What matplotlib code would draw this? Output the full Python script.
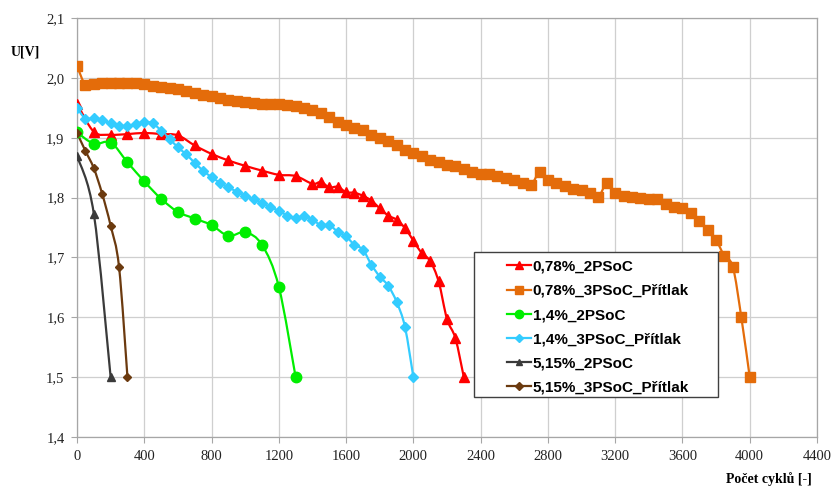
import matplotlib
matplotlib.use("Agg")
import matplotlib.pyplot as plt
import numpy as np
from matplotlib.path import Path
from matplotlib.patches import PathPatch, Rectangle
from matplotlib.lines import Line2D
from matplotlib.ticker import FuncFormatter

# 0,78%_2PSoC
red_x = [0, 100, 200, 300, 400, 500, 600, 700, 800, 900, 1000, 1100, 1200, 1300,
         1400, 1450, 1500, 1550, 1600, 1650, 1700, 1750, 1800, 1850, 1900, 1950,
         2000, 2050, 2100, 2150, 2200, 2250, 2300]
red_y = [1.957, 1.910, 1.905, 1.906, 1.908, 1.906, 1.904, 1.887, 1.873, 1.862, 1.853,
         1.845, 1.838, 1.836, 1.823, 1.826, 1.817, 1.818, 1.809, 1.808, 1.803, 1.795,
         1.782, 1.770, 1.763, 1.749, 1.728, 1.707, 1.694, 1.660, 1.597, 1.565, 1.500]

# 0,78%_3PSoC_Přítlak
orange_x = list(range(0, 4001, 50))
orange_y = [2.020, 1.988, 1.989, 1.991, 1.992, 1.992, 1.992, 1.991, 1.989, 1.987,
            1.985, 1.983, 1.981, 1.978, 1.975, 1.972, 1.969, 1.966, 1.963, 1.961,
            1.959, 1.958, 1.957, 1.957, 1.956, 1.955, 1.953, 1.950, 1.946, 1.941,
            1.934, 1.927, 1.922, 1.916, 1.913, 1.905, 1.899, 1.894, 1.888, 1.880,
            1.874, 1.869, 1.863, 1.859, 1.855, 1.852, 1.848, 1.843, 1.840, 1.839,
            1.836, 1.832, 1.830, 1.825, 1.821, 1.842, 1.829, 1.824, 1.819, 1.815,
            1.812, 1.808, 1.801, 1.824, 1.808, 1.802, 1.801, 1.800, 1.798, 1.797,
            1.789, 1.785, 1.782, 1.775, 1.761, 1.746, 1.729, 1.702, 1.684, 1.600,
            1.500]

# 1,4%_2PSoC
green_x = [0, 100, 200, 300, 400, 500, 600, 700, 800, 900, 1000, 1100, 1200, 1300]
green_y = [1.909, 1.890, 1.892, 1.859, 1.827, 1.798, 1.776, 1.765, 1.754, 1.736,
           1.742, 1.721, 1.651, 1.500]

# 1,4%_3PSoC_Přítlak
blue_x = list(range(0, 2001, 50))
blue_y = [1.950, 1.932, 1.933, 1.929, 1.924, 1.920, 1.920, 1.923, 1.926, 1.924,
          1.912, 1.898, 1.884, 1.872, 1.858, 1.845, 1.834, 1.825, 1.817, 1.810,
          1.803, 1.797, 1.791, 1.784, 1.778, 1.770, 1.766, 1.769, 1.763, 1.754,
          1.754, 1.743, 1.735, 1.721, 1.713, 1.688, 1.668, 1.653, 1.626, 1.584,
          1.500]

# 5,15%_2PSoC
black_x = [0, 100, 200]
black_y = [1.870, 1.773, 1.500]

# 5,15%_3PSoC_Přítlak
brown_x = [0, 50, 100, 150, 200, 250, 300]
brown_y = [1.908, 1.878, 1.849, 1.806, 1.753, 1.684, 1.500]

series = [
    ("0,78%_2PSoC", red_x, red_y, "#FF0000", "^", 7.5, 6),
    ("0,78%_3PSoC_Přítlak", orange_x, orange_y, "#E46C0A", "s", 7.5, 6),
    ("1,4%_2PSoC", green_x, green_y, "#00EE00", "o", 7.5, 6),
    ("1,4%_3PSoC_Přítlak", blue_x, blue_y, "#33CCFF", "D", 5.5, 4.5),
    ("5,15%_2PSoC", black_x, black_y, "#3A3A3A", "^", 5.5, 5),
    ("5,15%_3PSoC_Přítlak", brown_x, brown_y, "#6B3A0F", "D", 4.5, 4.5),
]


def smooth_path(x, y):
    # vyhlazena cara jako v Excelu: Bezierovy useky pres body
    p = np.column_stack([x, y]).astype(float)
    n = len(p)
    verts = [p[0]]
    codes = [Path.MOVETO]
    for i in range(n - 1):
        p0 = p[i - 1] if i > 0 else p[i]
        p3 = p[i + 2] if i + 2 < n else p[i + 1]
        c1 = p[i] + (p[i + 1] - p0) / 6.0
        c2 = p[i + 1] - (p3 - p[i]) / 6.0
        verts += [c1, c2, p[i + 1]]
        codes += [Path.CURVE4] * 3
    return Path(verts, codes)


fig = plt.figure(figsize=(8.32, 4.88), dpi=100)
ax = fig.add_axes([77 / 832, 1 - 437 / 488, 740 / 832, 419 / 488])

handles = []
for label, xs, ys, col, mk, ms, lms in series:
    ax.add_patch(PathPatch(smooth_path(xs, ys), fill=False, edgecolor=col, lw=1.6, zorder=3))
    ax.plot(xs, ys, ls="none", marker=mk, ms=ms, color=col, mec=col, zorder=4)
    handles.append(Line2D([], [], color=col, lw=1.6, marker=mk, ms=lms, mec=col, label=label))

ax.set_xlim(0, 4400)
ax.set_ylim(1.4, 2.1)
ax.set_xticks(np.arange(0, 4401, 400))
ax.set_yticks(np.arange(1.4, 2.101, 0.1))
ax.yaxis.set_major_formatter(FuncFormatter(lambda v, p: f"{v:.1f}".replace(".", ",")))
ax.grid(True, color="#CFCFCF", lw=0.9)
ax.set_axisbelow(True)
for s in ax.spines.values():
    s.set_color("#A6A6A6")
    s.set_linewidth(0.9)
ax.tick_params(length=4, color="#A6A6A6", labelsize=10.5, pad=5, labelcolor="#222222")
for t in ax.get_xticklabels() + ax.get_yticklabels():
    t.set_fontfamily("Liberation Serif")

fig.text(11 / 832, 1 - 52 / 488, "U[V]", family="Liberation Serif", weight="bold",
         fontsize=10, va="center", ha="left")
fig.text(812 / 832, 1 - 479 / 488, "Počet cyklů [-]", family="Liberation Serif",
         weight="bold", fontsize=10, va="center", ha="right")

# ramecek legendy
fig.patches.append(Rectangle((474 / 832, 1 - 397 / 488), 244 / 832, 145 / 488,
                             transform=fig.transFigure, facecolor="white",
                             edgecolor="#404040", lw=1.0, zorder=5))
leg = fig.legend(handles=handles, loc="upper left", bbox_to_anchor=(499 / 832, 1 - 252 / 488),
                 frameon=False, borderpad=0, handlelength=1.6, handletextpad=0.1,
                 labelspacing=0.67, prop={"family": "Liberation Sans", "weight": "bold", "size": 11})
leg.set_zorder(6)

fig.savefig("out.png", dpi=100)
